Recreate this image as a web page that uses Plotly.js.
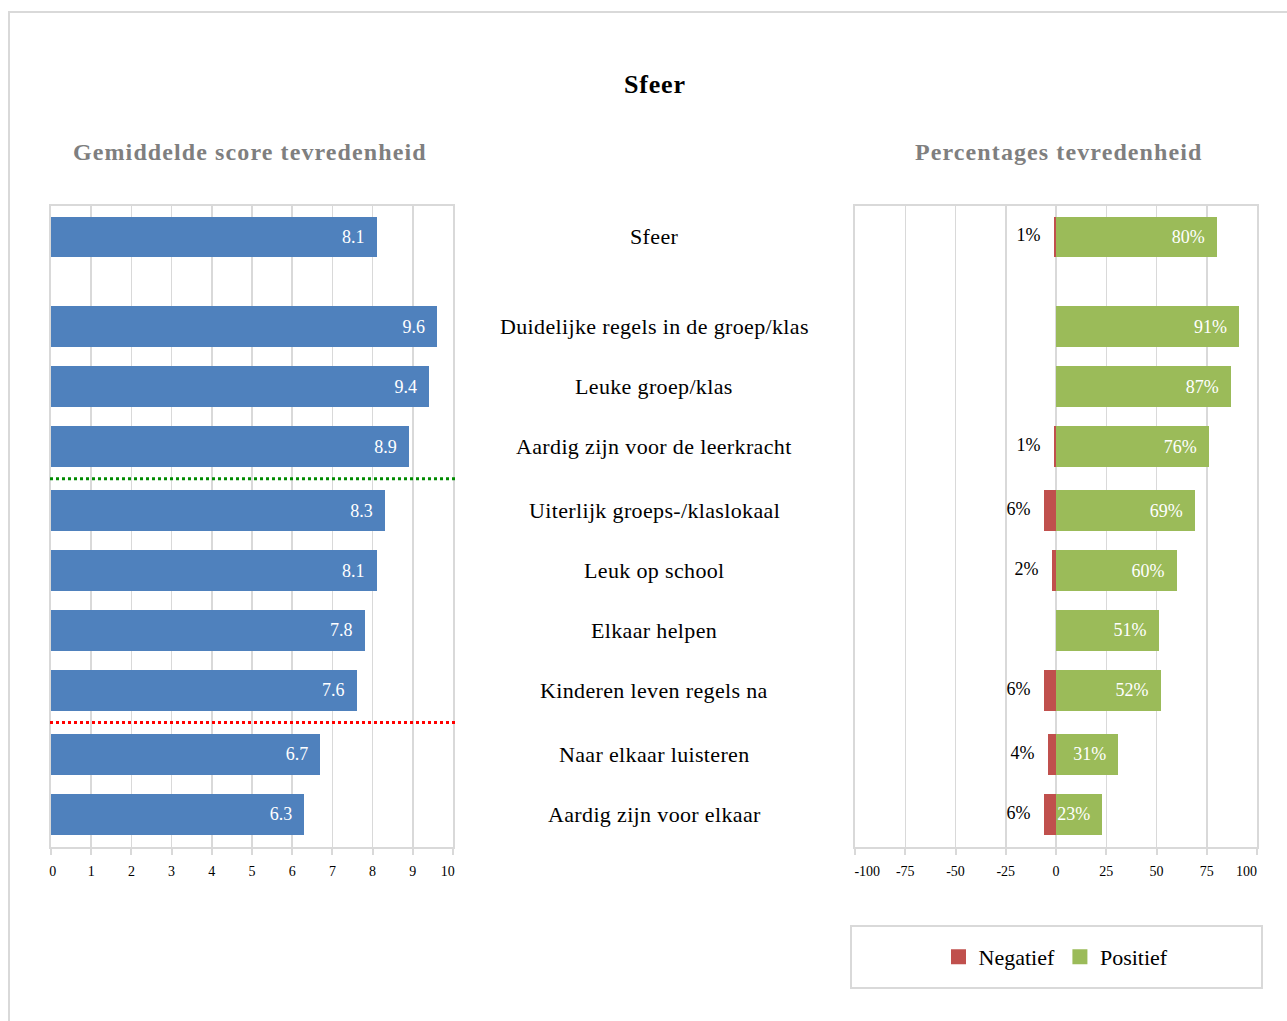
<!DOCTYPE html>
<html>
<head>
<meta charset="utf-8">
<script src="https://cdn.plot.ly/plotly-3.0.1.min.js"></script>
<style>html,body{margin:0;padding:0;background:#fff;}#chart{width:1287px;height:1021px;}</style>
</head>
<body>
<div id="chart"></div>
<script>
// ---- data ----
const categories = [
  "Sfeer",
  "Duidelijke regels in de groep/klas",
  "Leuke groep/klas",
  "Aardig zijn voor de leerkracht",
  "Uiterlijk groeps-/klaslokaal",
  "Leuk op school",
  "Elkaar helpen",
  "Kinderen leven regels na",
  "Naar elkaar luisteren",
  "Aardig zijn voor elkaar"
];
const meanScores = [8.1, 9.6, 9.4, 8.9, 8.3, 8.1, 7.8, 7.6, 6.7, 6.3];
const negatief   = [1, 0, 0, 1, 6, 2, 0, 6, 4, 6];
const positief   = [80, 91, 87, 76, 69, 60, 51, 52, 31, 23];
const leftTicks  = [0,1,2,3,4,5,6,7,8,9,10];
const rightTicks = [-100,-75,-50,-25,0,25,50,75,100];
const rightTickText = ["-100","-75","-50","-25","0","25","50","75","100"];

// ---- layout helpers ----
const W = 1287, H = 1021;
const FONT = "Liberation Serif, Times New Roman, serif";
const GRID = "#d9d9d9";
const NB = "\u00a0";
// row positions: gap after first row, small gaps at the two threshold lines
const pos = categories.map((c, i) => i + (i >= 1 ? 0.5 : 0) + (i >= 4 ? 0.067 : 0) + (i >= 8 ? 0.067 : 0));
const yRange = [10.18, -0.517];
const px = v => v / W;
const py = v => 1 - v / H;
const spaced = (t, ls) => '<span style="letter-spacing:' + ls + 'px">' + t + '</span>';

const negX = negatief.map(v => -v);
const negText = negatief.map(v => v > 0 ? v + "%" + NB + NB + NB : "");

// shift edge tick labels inward like the original
const rightTickLabels = rightTickText.map((t, i) =>
  i === 0 ? NB.repeat(7) + t : (i === rightTickText.length - 1 ? t + NB.repeat(6) : t));
const leftTickLabels = leftTicks.map((t, i) =>
  i === 0 ? NB + String(t) : (i === leftTicks.length - 1 ? String(t) + NB + NB + NB : String(t)));

const traces = [
  {
    type: "bar", orientation: "h", x: meanScores, y: pos,
    xaxis: "x", yaxis: "y", width: 0.68,
    marker: {color: "#4F81BD"},
    text: meanScores.map(v => v.toFixed(1) + NB + NB), textposition: "inside", insidetextanchor: "end",
    constraintext: "none",
    textangle: 0, insidetextfont: {family: FONT, size: 18, color: "#ffffff"},
    showlegend: false, hoverinfo: "skip"
  },
  {
    type: "bar", orientation: "h", x: negX, y: pos, name: "Negatief",
    xaxis: "x2", yaxis: "y2", width: 0.68,
    marker: {color: "#C0504D"}, hoverinfo: "skip", showlegend: false
  },
  {
    type: "bar", orientation: "h", x: positief, y: pos, name: "Positief",
    xaxis: "x2", yaxis: "y2", width: 0.68,
    marker: {color: "#9BBB59"},
    text: positief.map(v => v + "%" + NB + NB), textposition: "inside", insidetextanchor: "end",
    constraintext: "none",
    textangle: 0, insidetextfont: {family: FONT, size: 18, color: "#ffffff"},
    hoverinfo: "skip", showlegend: false
  },
  {
    type: "scatter", mode: "text", x: negX, y: pos, text: negText,
    textposition: "middle left", textfont: {family: FONT, size: 18, color: "#000"},
    xaxis: "x2", yaxis: "y2", showlegend: false, hoverinfo: "skip", cliponaxis: false
  },
  // legend entries (square swatches)
  {type: "scatter", mode: "markers", x: [null], y: [null], name: "Negatief", xaxis: "x2", yaxis: "y2",
   marker: {symbol: "square", size: 15, color: "#C0504D"}, hoverinfo: "skip"},
  {type: "scatter", mode: "markers", x: [null], y: [null], name: "Positief", xaxis: "x2", yaxis: "y2",
   marker: {symbol: "square", size: 15, color: "#9BBB59"}, hoverinfo: "skip"}
];

const annotations = categories.map((c, i) => ({
  xref: "paper", yref: "y", x: px(654), y: pos[i], text: spaced(c, 0.35), showarrow: false,
  xanchor: "center", yanchor: "middle", font: {family: FONT, size: 22, color: "#000"}
}));
annotations.push(
  {xref: "paper", yref: "paper", x: px(655), y: py(84), text: "<b>" + spaced("Sfeer", 0.8) + "</b>", showarrow: false,
   xanchor: "center", yanchor: "middle", font: {family: FONT, size: 26, color: "#000"}},
  {xref: "paper", yref: "paper", x: px(250), y: py(152), text: "<b>" + spaced("Gemiddelde score tevredenheid", 1.1) + "</b>", showarrow: false,
   xanchor: "center", yanchor: "middle", font: {family: FONT, size: 24, color: "#7f7f7f"}},
  {xref: "paper", yref: "paper", x: px(1058), y: py(152), text: "<b>" + spaced("Percentages tevredenheid", 1.1) + "</b>", showarrow: false,
   xanchor: "center", yanchor: "middle", font: {family: FONT, size: 24, color: "#7f7f7f"}}
);

const lineGreen = (pos[3] + pos[4]) / 2;
const lineRed = (pos[7] + pos[8]) / 2;

const shapes = [
  {type: "rect", xref: "paper", yref: "paper", x0: px(9), x1: px(1300), y0: py(12), y1: py(1030),
   line: {color: GRID, width: 2}, fillcolor: "rgba(0,0,0,0)"},
  {type: "rect", xref: "paper", yref: "paper", x0: px(851), x1: px(1262), y0: py(926), y1: py(988),
   line: {color: GRID, width: 2}, fillcolor: "rgba(0,0,0,0)"},
  {type: "line", xref: "paper", yref: "y", x0: px(50), x1: px(455), y0: lineGreen, y1: lineGreen,
   line: {color: "#008a00", width: 3, dash: "dot"}},
  {type: "line", xref: "paper", yref: "y", x0: px(50), x1: px(455), y0: lineRed, y1: lineRed,
   line: {color: "#ff0000", width: 3, dash: "dot"}}
];

const axisCommon = {
  showgrid: true, gridcolor: GRID, gridwidth: 1.5, zeroline: false,
  showline: true, linecolor: GRID, linewidth: 2, mirror: true,
  ticks: "outside", ticklen: 6, tickcolor: GRID, tickwidth: 2, ticklabelstandoff: 4,
  tickfont: {family: FONT, size: 14, color: "#000"}, fixedrange: true
};
const yCommon = {
  range: yRange, showgrid: false, zeroline: false, showticklabels: false,
  showline: true, linecolor: GRID, linewidth: 2, mirror: true, ticks: "", fixedrange: true
};

const layout = {
  width: W, height: H, margin: {l: 0, r: 0, t: 0, b: 0},
  paper_bgcolor: "#fff", plot_bgcolor: "#fff",
  barmode: "relative", bargap: 0,
  showlegend: true,
  legend: {orientation: "h", x: px(1056), y: py(957), xanchor: "center", yanchor: "middle",
           font: {family: FONT, size: 22, color: "#000"}, bgcolor: "rgba(0,0,0,0)", borderwidth: 0,
           itemwidth: 30, itemclick: false, itemdoubleclick: false},
  xaxis: Object.assign({}, axisCommon, {domain: [px(51), px(453)], range: [0, 10],
           tickmode: "array", tickvals: leftTicks, ticktext: leftTickLabels, anchor: "y"}),
  yaxis: Object.assign({}, yCommon, {domain: [py(847), py(206)], anchor: "x"}),
  xaxis2: Object.assign({}, axisCommon, {domain: [px(855), px(1257)], range: [-100, 100],
           tickmode: "array", tickvals: rightTicks, ticktext: rightTickLabels, anchor: "y2"}),
  yaxis2: Object.assign({}, yCommon, {domain: [py(847), py(206)], anchor: "x2"}),
  annotations: annotations,
  shapes: shapes
};

Plotly.newPlot("chart", traces, layout, {displayModeBar: false, staticPlot: true});
</script>
</body>
</html>
